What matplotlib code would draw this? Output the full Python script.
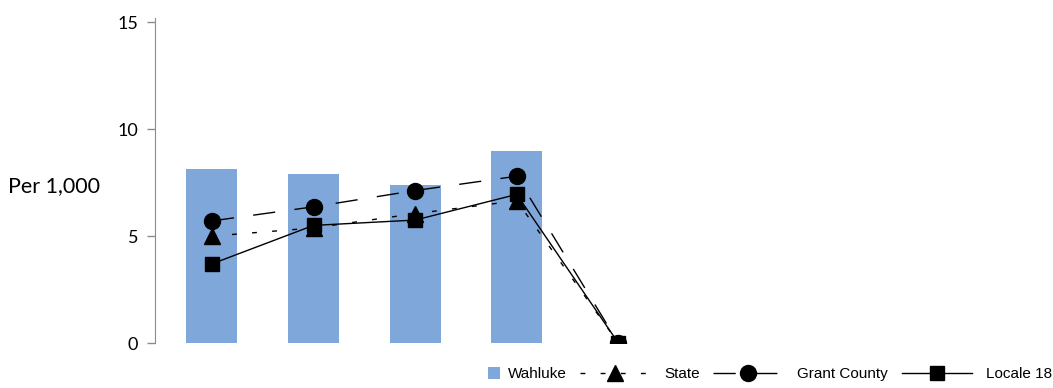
import matplotlib.pyplot as plt
import numpy as np

categories = ["1", "2", "3", "4", "5"]
wahluke = [8.13, 7.9, 7.38, 8.97, 0]
state = [5.0, 5.38, 6.05, 6.65, 0]
grant_county = [5.71, 6.37, 7.13, 7.8, 0]
locale_18 = [3.7, 5.5, 5.75, 6.95, 0]

x = np.arange(len(categories))

fig = plt.figure(figsize=(10.53, 3.88), dpi=100)
ax = fig.add_axes([155 / 1053, 45 / 388, (1040 - 155) / 1053, (343 - 18) / 388])

bars = ax.bar(x[:4], wahluke[:4], width=0.5, color="#7FA7D9", label="Wahluke", zorder=1)
l_state, = ax.plot(x, state, color="black", lw=1, dashes=(3.5, 11), marker="^", ms=11,
                   label="State", zorder=3)
l_grant, = ax.plot(x, grant_county, color="black", lw=1, dashes=(16, 14), marker="o",
                   ms=11.5, label="Grant County", zorder=3)
l_loc, = ax.plot(x, locale_18, color="black", lw=1, marker="s", ms=10,
                 label="Locale 18", zorder=4)

ax.set_xlim(-0.56, (1040 - 212) / 101.6)
ax.set_ylim(0, 15.2)
ax.set_yticks([0, 5, 10, 15])
ax.set_xticks([])
for s in ["top", "right", "bottom"]:
    ax.spines[s].set_visible(False)
ax.spines["left"].set_color("#8c8c8c")
ax.tick_params(axis="y", direction="out", length=6, color="#8c8c8c", width=1,
               labelsize=13, pad=6)
for lab in ax.get_yticklabels():
    lab.set_family("Lato")

fig.text(8 / 1053, 1 - 186 / 388, "Per 1,000", family="Lato", fontsize=15.5,
         va="center", ha="left")

# legend: blue square first, then the three lines
legprop = {"family": "Liberation Sans", "size": 11}
leg1 = fig.legend([bars], ["Wahluke"], loc="center right",
                  bbox_to_anchor=(567 / 1053, 1 - 374 / 388), frameon=False,
                  prop=legprop, handlelength=0.8, handleheight=0.8,
                  handletextpad=0.5, borderaxespad=0, borderpad=0)
leg2 = fig.legend([l_state, l_grant, l_loc], ["State", "Grant County", "Locale 18"],
                  loc="center right", bbox_to_anchor=(1052 / 1053, 1 - 374 / 388),
                  ncol=3, frameon=False, prop=legprop, handlelength=4.6,
                  columnspacing=0.9, handletextpad=0.9, borderaxespad=0, borderpad=0)

plt.savefig("out.png", dpi=100)
